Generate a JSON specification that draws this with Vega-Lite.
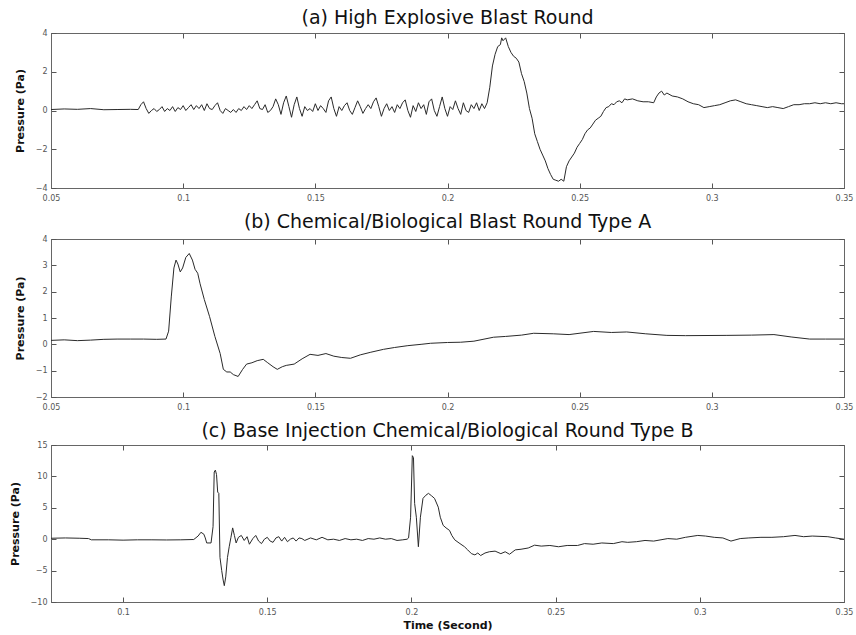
{
  "$schema": "https://vega.github.io/schema/vega-lite/v6.json",
  "background": "white",
  "padding": {"left": 8, "top": 8, "right": 5, "bottom": 2},
  "spacing": 9,
  "config": {
    "view": {"stroke": "#666", "strokeWidth": 1},
    "font": "DejaVu Sans",
    "axis": {
      "labelFont": "DejaVu Sans",
      "labelFontSize": 8,
      "labelColor": "#555",
      "tickColor": "#555",
      "domainColor": "#666",
      "tickSize": -5,
      "grid": false,
      "labelFlush": false,
      "labelOverlap": false,
      "titleFont": "DejaVu Sans",
      "titleFontSize": 11,
      "titleFontWeight": "bold",
      "titleColor": "#111"
    },
    "axisX": {"labelPadding": 11},
    "axisY": {"labelPadding": 9, "titlePadding": 10},
    "title": {"font": "DejaVu Sans", "fontSize": 19, "fontWeight": "normal", "color": "#111", "anchor": "middle", "offset": 1}
  },
  "datasets": {
    "a": [
      {"t":0.05,"p":0.05},{"t":0.055,"p":0.08},{"t":0.06,"p":0.06},{"t":0.065,"p":0.1},{"t":0.07,"p":0.04},{"t":0.075,"p":0.05},{"t":0.08,"p":0.06},{"t":0.083,"p":0.05},
      {"t":0.084,"p":0.3},{"t":0.085,"p":0.45},{"t":0.086,"p":0.1},{"t":0.087,"p":-0.15},{"t":0.088,"p":0.0},{"t":0.089,"p":0.1},{"t":0.090,"p":-0.05},{"t":0.091,"p":0.05},{"t":0.092,"p":0.2},{"t":0.093,"p":-0.05},{"t":0.094,"p":0.1},{"t":0.095,"p":0.0},{"t":0.096,"p":0.2},{"t":0.097,"p":-0.05},{"t":0.098,"p":0.15},{"t":0.099,"p":0.05},
      {"t":0.100,"p":0.25},{"t":0.101,"p":0.0},{"t":0.102,"p":0.15},{"t":0.103,"p":0.3},{"t":0.104,"p":0.05},{"t":0.105,"p":0.25},{"t":0.106,"p":0.1},{"t":0.107,"p":0.3},{"t":0.108,"p":0.0},{"t":0.109,"p":0.35},
      {"t":0.110,"p":0.1},{"t":0.111,"p":0.05},{"t":0.112,"p":0.25},{"t":0.113,"p":0.4},{"t":0.114,"p":0.0},{"t":0.115,"p":-0.15},{"t":0.116,"p":0.1},{"t":0.117,"p":0.0},{"t":0.118,"p":-0.1},{"t":0.119,"p":0.05},
      {"t":0.120,"p":-0.1},{"t":0.121,"p":0.1},{"t":0.122,"p":0.0},{"t":0.123,"p":0.2},{"t":0.124,"p":0.05},{"t":0.125,"p":0.25},{"t":0.126,"p":0.1},{"t":0.127,"p":0.3},{"t":0.128,"p":0.5},{"t":0.129,"p":0.1},
      {"t":0.130,"p":0.05},{"t":0.131,"p":0.3},{"t":0.132,"p":-0.1},{"t":0.133,"p":0.0},{"t":0.134,"p":0.2},{"t":0.135,"p":0.6},{"t":0.136,"p":0.3},{"t":0.137,"p":-0.2},{"t":0.138,"p":0.4},{"t":0.139,"p":0.75},
      {"t":0.140,"p":0.2},{"t":0.141,"p":-0.35},{"t":0.142,"p":0.3},{"t":0.143,"p":0.7},{"t":0.144,"p":0.1},{"t":0.145,"p":-0.3},{"t":0.146,"p":0.2},{"t":0.147,"p":0.0},{"t":0.148,"p":0.1},{"t":0.149,"p":-0.05},
      {"t":0.150,"p":0.35},{"t":0.151,"p":0.0},{"t":0.152,"p":0.25},{"t":0.153,"p":0.1},{"t":0.154,"p":-0.1},{"t":0.155,"p":0.5},{"t":0.156,"p":0.7},{"t":0.157,"p":0.1},{"t":0.158,"p":-0.3},{"t":0.159,"p":0.2},
      {"t":0.160,"p":0.0},{"t":0.161,"p":0.25},{"t":0.162,"p":0.4},{"t":0.163,"p":0.0},{"t":0.164,"p":-0.2},{"t":0.165,"p":0.15},{"t":0.166,"p":0.5},{"t":0.167,"p":0.2},{"t":0.168,"p":-0.15},{"t":0.169,"p":0.1},
      {"t":0.170,"p":0.3},{"t":0.171,"p":0.1},{"t":0.172,"p":0.45},{"t":0.173,"p":0.65},{"t":0.174,"p":0.2},{"t":0.175,"p":-0.3},{"t":0.176,"p":0.1},{"t":0.177,"p":0.35},{"t":0.178,"p":0.0},{"t":0.179,"p":0.2},
      {"t":0.180,"p":-0.1},{"t":0.181,"p":0.3},{"t":0.182,"p":0.1},{"t":0.183,"p":0.4},{"t":0.184,"p":0.55},{"t":0.185,"p":0.0},{"t":0.186,"p":-0.35},{"t":0.187,"p":0.25},{"t":0.188,"p":-0.05},{"t":0.189,"p":0.4},
      {"t":0.190,"p":0.1},{"t":0.191,"p":0.3},{"t":0.192,"p":-0.2},{"t":0.193,"p":0.45},{"t":0.194,"p":0.6},{"t":0.195,"p":0.0},{"t":0.196,"p":-0.3},{"t":0.197,"p":0.2},{"t":0.198,"p":0.7},{"t":0.199,"p":0.1},
      {"t":0.200,"p":-0.3},{"t":0.201,"p":0.2},{"t":0.202,"p":0.05},{"t":0.203,"p":0.5},{"t":0.204,"p":0.1},{"t":0.205,"p":-0.2},{"t":0.206,"p":0.4},{"t":0.207,"p":0.0},{"t":0.208,"p":-0.1},{"t":0.209,"p":0.3},
      {"t":0.210,"p":0.1},{"t":0.211,"p":0.4},{"t":0.212,"p":0.0},{"t":0.213,"p":0.35},{"t":0.214,"p":0.1},{"t":0.215,"p":0.4},
      {"t":0.216,"p":1.2},{"t":0.217,"p":2.3},{"t":0.218,"p":2.9},{"t":0.219,"p":3.3},{"t":0.220,"p":3.4},{"t":0.2205,"p":3.75},{"t":0.221,"p":3.6},{"t":0.222,"p":3.75},{"t":0.223,"p":3.3},{"t":0.224,"p":3.0},
      {"t":0.225,"p":2.8},{"t":0.226,"p":2.7},{"t":0.227,"p":2.5},{"t":0.228,"p":1.9},{"t":0.229,"p":1.5},{"t":0.230,"p":0.9},{"t":0.231,"p":0.1},{"t":0.232,"p":-0.4},{"t":0.233,"p":-1.2},{"t":0.234,"p":-1.6},
      {"t":0.235,"p":-2.0},{"t":0.236,"p":-2.3},{"t":0.237,"p":-2.6},{"t":0.238,"p":-3.0},{"t":0.239,"p":-3.3},{"t":0.240,"p":-3.55},{"t":0.241,"p":-3.6},{"t":0.242,"p":-3.65},{"t":0.243,"p":-3.55},{"t":0.244,"p":-3.65},
      {"t":0.245,"p":-2.9},{"t":0.246,"p":-2.6},{"t":0.247,"p":-2.4},{"t":0.248,"p":-2.2},{"t":0.249,"p":-1.9},{"t":0.250,"p":-1.7},{"t":0.251,"p":-1.5},{"t":0.252,"p":-1.2},{"t":0.253,"p":-1.0},{"t":0.254,"p":-0.9},
      {"t":0.255,"p":-0.7},{"t":0.256,"p":-0.5},{"t":0.257,"p":-0.4},{"t":0.258,"p":-0.3},{"t":0.259,"p":-0.05},{"t":0.260,"p":0.15},{"t":0.261,"p":0.2},{"t":0.262,"p":0.35},{"t":0.263,"p":0.3},{"t":0.264,"p":0.45},
      {"t":0.265,"p":0.5},{"t":0.266,"p":0.4},{"t":0.267,"p":0.6},{"t":0.268,"p":0.55},{"t":0.270,"p":0.6},{"t":0.272,"p":0.5},{"t":0.274,"p":0.45},{"t":0.276,"p":0.45},{"t":0.278,"p":0.4},{"t":0.279,"p":0.7},
      {"t":0.280,"p":0.9},{"t":0.281,"p":1.0},{"t":0.282,"p":0.8},{"t":0.283,"p":0.9},{"t":0.285,"p":0.75},{"t":0.287,"p":0.7},{"t":0.289,"p":0.6},{"t":0.291,"p":0.45},{"t":0.293,"p":0.35},{"t":0.295,"p":0.3},
      {"t":0.297,"p":0.15},{"t":0.299,"p":0.2},{"t":0.301,"p":0.25},{"t":0.303,"p":0.3},{"t":0.305,"p":0.4},{"t":0.307,"p":0.5},{"t":0.309,"p":0.55},{"t":0.311,"p":0.45},{"t":0.313,"p":0.35},{"t":0.315,"p":0.3},
      {"t":0.317,"p":0.25},{"t":0.319,"p":0.2},{"t":0.321,"p":0.15},{"t":0.323,"p":0.2},{"t":0.325,"p":0.15},{"t":0.327,"p":0.1},{"t":0.329,"p":0.2},{"t":0.331,"p":0.3},{"t":0.333,"p":0.3},{"t":0.335,"p":0.35},
      {"t":0.337,"p":0.35},{"t":0.339,"p":0.4},{"t":0.341,"p":0.35},{"t":0.343,"p":0.4},{"t":0.345,"p":0.35},{"t":0.347,"p":0.4},{"t":0.349,"p":0.35},{"t":0.350,"p":0.35}
    ],
    "b": [
      {"t":0.05,"p":0.15},{"t":0.055,"p":0.17},{"t":0.06,"p":0.14},{"t":0.065,"p":0.16},{"t":0.07,"p":0.19},{"t":0.075,"p":0.2},{"t":0.08,"p":0.2},{"t":0.085,"p":0.2},{"t":0.09,"p":0.19},{"t":0.0935,"p":0.2},
      {"t":0.0945,"p":0.5},{"t":0.0955,"p":1.8},{"t":0.0965,"p":2.9},{"t":0.0973,"p":3.2},{"t":0.098,"p":3.05},{"t":0.0989,"p":2.75},{"t":0.0998,"p":2.9},{"t":0.101,"p":3.3},{"t":0.1023,"p":3.45},{"t":0.1035,"p":3.2},
      {"t":0.1045,"p":2.85},{"t":0.1055,"p":2.7},{"t":0.1064,"p":2.3},{"t":0.108,"p":1.7},{"t":0.110,"p":1.05},{"t":0.112,"p":0.3},{"t":0.114,"p":-0.35},{"t":0.1152,"p":-0.95},{"t":0.1165,"p":-1.05},{"t":0.1178,"p":-1.05},
      {"t":0.119,"p":-1.15},{"t":0.1208,"p":-1.22},{"t":0.1225,"p":-0.95},{"t":0.124,"p":-0.75},{"t":0.126,"p":-0.7},{"t":0.128,"p":-0.62},{"t":0.1303,"p":-0.57},{"t":0.132,"p":-0.7},{"t":0.134,"p":-0.85},{"t":0.1356,"p":-0.95},
      {"t":0.1375,"p":-0.85},{"t":0.139,"p":-0.8},{"t":0.142,"p":-0.75},{"t":0.145,"p":-0.55},{"t":0.148,"p":-0.38},{"t":0.151,"p":-0.42},{"t":0.154,"p":-0.35},{"t":0.157,"p":-0.45},{"t":0.160,"p":-0.5},{"t":0.1633,"p":-0.53},
      {"t":0.167,"p":-0.4},{"t":0.171,"p":-0.3},{"t":0.1758,"p":-0.19},{"t":0.18,"p":-0.12},{"t":0.185,"p":-0.05},{"t":0.19,"p":0.0},{"t":0.1936,"p":0.04},{"t":0.2,"p":0.07},{"t":0.205,"p":0.08},{"t":0.21,"p":0.12},
      {"t":0.2174,"p":0.27},{"t":0.222,"p":0.3},{"t":0.228,"p":0.35},{"t":0.2326,"p":0.42},{"t":0.24,"p":0.4},{"t":0.246,"p":0.37},{"t":0.2553,"p":0.49},{"t":0.262,"p":0.45},{"t":0.2678,"p":0.47},{"t":0.275,"p":0.4},
      {"t":0.283,"p":0.34},{"t":0.29,"p":0.33},{"t":0.3057,"p":0.34},{"t":0.315,"p":0.35},{"t":0.3235,"p":0.37},{"t":0.33,"p":0.28},{"t":0.337,"p":0.2},{"t":0.343,"p":0.2},{"t":0.35,"p":0.2}
    ],
    "c": [
      {"t":0.075,"p":0.15},{"t":0.08,"p":0.2},{"t":0.085,"p":0.15},{"t":0.088,"p":0.1},{"t":0.089,"p":-0.1},{"t":0.095,"p":-0.1},{"t":0.1,"p":-0.15},{"t":0.105,"p":-0.1},{"t":0.11,"p":-0.1},{"t":0.115,"p":-0.12},
      {"t":0.12,"p":-0.1},{"t":0.1245,"p":-0.05},{"t":0.126,"p":0.5},{"t":0.127,"p":1.1},{"t":0.128,"p":0.8},{"t":0.1285,"p":0.2},{"t":0.129,"p":-0.6},{"t":0.1305,"p":-0.6},{"t":0.1312,"p":2},{"t":0.1316,"p":10.7},
      {"t":0.132,"p":11.0},{"t":0.1324,"p":10.3},{"t":0.1328,"p":7.5},{"t":0.1332,"p":7.3},{"t":0.1336,"p":-2.9},{"t":0.1342,"p":-5},{"t":0.1347,"p":-6.5},{"t":0.1351,"p":-7.4},{"t":0.1356,"p":-6},{"t":0.1362,"p":-2.9},
      {"t":0.1368,"p":-1.2},{"t":0.1374,"p":0.3},{"t":0.138,"p":1.8},{"t":0.1386,"p":0.6},{"t":0.1392,"p":-0.6},{"t":0.140,"p":0.3},{"t":0.141,"p":0.6},{"t":0.142,"p":-0.2},{"t":0.143,"p":0.4},{"t":0.1438,"p":-0.8},
      {"t":0.145,"p":0.1},{"t":0.146,"p":0.6},{"t":0.147,"p":-0.3},{"t":0.148,"p":-0.7},{"t":0.149,"p":0.0},{"t":0.150,"p":0.3},{"t":0.151,"p":-0.3},{"t":0.152,"p":-0.5},{"t":0.153,"p":0.2},{"t":0.154,"p":0.4},
      {"t":0.155,"p":-0.3},{"t":0.156,"p":0.3},{"t":0.157,"p":-0.4},{"t":0.158,"p":0.0},{"t":0.159,"p":0.2},{"t":0.160,"p":-0.3},{"t":0.161,"p":0.2},{"t":0.162,"p":0.1},{"t":0.163,"p":-0.2},{"t":0.165,"p":0.2},
      {"t":0.167,"p":-0.1},{"t":0.169,"p":0.3},{"t":0.171,"p":-0.1},{"t":0.173,"p":0.0},{"t":0.175,"p":-0.2},{"t":0.177,"p":0.1},{"t":0.179,"p":-0.1},{"t":0.181,"p":0.0},{"t":0.183,"p":-0.2},{"t":0.185,"p":0.1},
      {"t":0.187,"p":0.0},{"t":0.189,"p":0.2},{"t":0.191,"p":0.0},{"t":0.193,"p":0.1},{"t":0.195,"p":-0.2},{"t":0.197,"p":-0.1},{"t":0.1985,"p":0.0},{"t":0.199,"p":0.2},{"t":0.1997,"p":3.5},{"t":0.2003,"p":13.3},
      {"t":0.2007,"p":13.0},{"t":0.2011,"p":5.7},{"t":0.2017,"p":3.5},{"t":0.2024,"p":-1.2},{"t":0.2031,"p":3.5},{"t":0.204,"p":6.5},{"t":0.205,"p":7.0},{"t":0.2059,"p":7.3},{"t":0.207,"p":6.9},{"t":0.208,"p":6.5},
      {"t":0.2093,"p":5.1},{"t":0.210,"p":3.5},{"t":0.211,"p":2.2},{"t":0.212,"p":1.8},{"t":0.2132,"p":1.4},{"t":0.214,"p":0.6},{"t":0.215,"p":-0.1},{"t":0.2165,"p":-0.6},{"t":0.2184,"p":-1.2},{"t":0.2195,"p":-1.7},
      {"t":0.2208,"p":-2.3},{"t":0.222,"p":-2.5},{"t":0.223,"p":-2.2},{"t":0.224,"p":-2.6},{"t":0.2255,"p":-2.2},{"t":0.227,"p":-2.0},{"t":0.229,"p":-1.9},{"t":0.231,"p":-2.3},{"t":0.2325,"p":-2.0},{"t":0.234,"p":-2.4},
      {"t":0.236,"p":-1.7},{"t":0.238,"p":-1.6},{"t":0.2405,"p":-1.4},{"t":0.2427,"p":-0.95},{"t":0.245,"p":-1.1},{"t":0.248,"p":-1.0},{"t":0.251,"p":-1.2},{"t":0.254,"p":-1.0},{"t":0.2576,"p":-1.0},{"t":0.26,"p":-0.7},
      {"t":0.263,"p":-0.8},{"t":0.266,"p":-0.6},{"t":0.27,"p":-0.7},{"t":0.273,"p":-0.4},{"t":0.275,"p":-0.5},{"t":0.278,"p":-0.4},{"t":0.281,"p":-0.2},{"t":0.284,"p":-0.3},{"t":0.2889,"p":0.1},{"t":0.292,"p":0.0},
      {"t":0.295,"p":0.3},{"t":0.2993,"p":0.6},{"t":0.302,"p":0.5},{"t":0.305,"p":0.3},{"t":0.308,"p":0.2},{"t":0.3108,"p":-0.3},{"t":0.314,"p":0.1},{"t":0.317,"p":0.2},{"t":0.3212,"p":0.3},{"t":0.325,"p":0.3},
      {"t":0.329,"p":0.4},{"t":0.333,"p":0.6},{"t":0.336,"p":0.4},{"t":0.339,"p":0.5},{"t":0.3444,"p":0.4},{"t":0.347,"p":0.2},{"t":0.35,"p":0.0}
    ]
  },
  "vconcat": [
    {
      "title": {"text": "(a) High Explosive Blast Round", "offset": 1},
      "width": 793, "height": 155,
      "data": {"name": "a"},
      "layer": [
        {"mark": {"type": "line", "color": "#2a2a2a", "strokeWidth": 1},
         "encoding": {
           "x": {"field": "t", "type": "quantitative", "scale": {"domain": [0.05, 0.35], "nice": false, "zero": false},
                 "axis": {"title": null, "values": [0.05,0.1,0.15,0.2,0.25,0.3,0.35], "format": "~g"}},
           "y": {"field": "p", "type": "quantitative", "scale": {"domain": [-4, 4], "nice": false},
                 "axis": {"title": "Pressure (Pa)", "values": [-4,-2,0,2,4]}}
         }},
        {"mark": {"type": "line", "opacity": 0},
         "encoding": {
           "x": {"field": "t", "type": "quantitative", "scale": {"domain": [0.05, 0.35], "nice": false, "zero": false}, "axis": {"orient": "top", "title": null, "labels": false, "values": [0.05,0.1,0.15,0.2,0.25,0.3,0.35]}},
           "y": {"field": "p", "type": "quantitative", "scale": {"domain": [-4, 4], "nice": false}, "axis": {"orient": "right", "title": null, "labels": false, "values": [-4,-2,0,2,4]}}
         }}
      ],
      "resolve": {"scale": {"x": "independent", "y": "independent"}, "axis": {"x": "independent", "y": "independent"}}
    },
    {
      "title": {"text": "(b) Chemical/Biological Blast Round Type A", "offset": 3},
      "width": 793, "height": 158,
      "data": {"name": "b"},
      "layer": [
        {"mark": {"type": "line", "color": "#2a2a2a", "strokeWidth": 1},
         "encoding": {
           "x": {"field": "t", "type": "quantitative", "scale": {"domain": [0.05, 0.35], "nice": false, "zero": false},
                 "axis": {"title": null, "values": [0.05,0.1,0.15,0.2,0.25,0.3,0.35], "format": "~g"}},
           "y": {"field": "p", "type": "quantitative", "scale": {"domain": [-2, 4], "nice": false},
                 "axis": {"title": "Pressure (Pa)", "values": [-2,-1,0,1,2,3,4]}}
         }},
        {"mark": {"type": "line", "opacity": 0},
         "encoding": {
           "x": {"field": "t", "type": "quantitative", "scale": {"domain": [0.05, 0.35], "nice": false, "zero": false}, "axis": {"orient": "top", "title": null, "labels": false, "values": [0.05,0.1,0.15,0.2,0.25,0.3,0.35]}},
           "y": {"field": "p", "type": "quantitative", "scale": {"domain": [-2, 4], "nice": false}, "axis": {"orient": "right", "title": null, "labels": false, "values": [-2,-1,0,1,2,3,4]}}
         }}
      ],
      "resolve": {"scale": {"x": "independent", "y": "independent"}, "axis": {"x": "independent", "y": "independent"}}
    },
    {
      "title": {"text": "(c) Base Injection Chemical/Biological Round Type B", "offset": 0},
      "width": 793, "height": 157,
      "data": {"name": "c"},
      "layer": [
        {"mark": {"type": "line", "color": "#2a2a2a", "strokeWidth": 1},
         "encoding": {
           "x": {"field": "t", "type": "quantitative", "scale": {"domain": [0.075, 0.35], "nice": false, "zero": false},
                 "axis": {"title": "Time (Second)", "titlePadding": 3, "values": [0.1,0.15,0.2,0.25,0.3,0.35], "format": "~g"}},
           "y": {"field": "p", "type": "quantitative", "scale": {"domain": [-10, 15], "nice": false},
                 "axis": {"title": "Pressure (Pa)", "values": [-10,-5,0,5,10,15]}}
         }},
        {"mark": {"type": "line", "opacity": 0},
         "encoding": {
           "x": {"field": "t", "type": "quantitative", "scale": {"domain": [0.075, 0.35], "nice": false, "zero": false}, "axis": {"orient": "top", "title": null, "labels": false, "values": [0.1,0.15,0.2,0.25,0.3,0.35]}},
           "y": {"field": "p", "type": "quantitative", "scale": {"domain": [-10, 15], "nice": false}, "axis": {"orient": "right", "title": null, "labels": false, "values": [-10,-5,0,5,10,15]}}
         }}
      ],
      "resolve": {"scale": {"x": "independent", "y": "independent"}, "axis": {"x": "independent", "y": "independent"}}
    }
  ]
}
